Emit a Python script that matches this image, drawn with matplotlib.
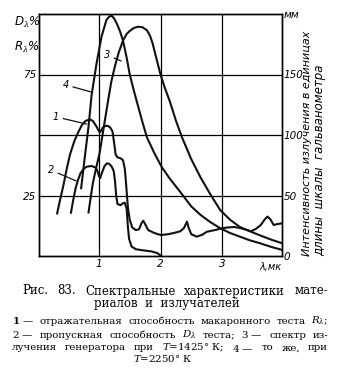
import matplotlib.pyplot as plt

# curve 1: reflectance R, %  (left axis)
lam1 = [0.32, 0.37, 0.42, 0.48, 0.53, 0.60, 0.66, 0.72, 0.78, 0.85, 0.90, 0.96, 1.00, 1.02,
        1.06, 1.10, 1.14, 1.18, 1.22, 1.25, 1.27, 1.30, 1.35, 1.39, 1.42, 1.44, 1.47, 1.50,
        1.54, 1.60, 1.65, 1.69, 1.72, 1.75, 1.80, 1.90, 2.00, 2.10, 2.20, 2.32, 2.38, 2.43,
        2.46, 2.50, 2.59, 2.68, 2.75, 2.90, 3.00, 3.10, 3.20, 3.30, 3.40, 3.47, 3.55, 3.63,
        3.69, 3.74, 3.79, 3.84, 3.90, 3.98]
refl1 = [17.6, 23.5, 29.0, 36.5, 42.0, 47.5, 51.0, 54.0, 55.8, 56.5, 55.8, 53.5, 51.5, 51.2,
         53.0, 53.7, 53.8, 53.2, 51.5, 46.0, 42.0, 40.8, 40.4, 39.6, 36.0, 30.0, 20.0, 15.0,
         11.8, 10.7, 11.0, 13.5, 14.6, 13.2, 10.7, 9.5, 8.7, 8.9, 9.4, 10.2, 11.5, 14.2,
         11.5, 9.0, 8.0, 8.8, 10.0, 10.8, 11.5, 11.8, 12.0, 11.5, 10.8, 10.2, 11.2, 12.8,
         15.0, 16.3, 15.0, 12.8, 13.2, 13.5]

# curve 2: transmittance D, %  (left axis)
lam2 = [0.545, 0.58, 0.62, 0.66, 0.70, 0.75, 0.80, 0.88, 0.94, 0.97, 1.00, 1.02, 1.05, 1.09,
        1.13, 1.17, 1.21, 1.24, 1.26, 1.28, 1.30, 1.35, 1.39, 1.42, 1.45, 1.47, 1.49, 1.53,
        1.60, 1.70, 1.85, 1.95, 2.01]
trans2 = [17.9, 23.0, 28.0, 31.5, 34.2, 36.0, 36.9, 37.2, 36.6, 35.5, 33.0, 32.2, 34.5, 37.2,
          38.3, 38.0, 36.8, 35.0, 31.0, 25.0, 21.5, 21.0, 21.8, 22.0, 19.5, 12.0, 7.0, 3.9,
          2.8, 2.4, 1.9, 1.2, 0.0]

# curve 3: generator spectrum at 1425 K, mm  (right axis)
lam3 = [0.83, 0.87, 0.90, 0.95, 1.01, 1.08, 1.15, 1.20, 1.26, 1.32, 1.39, 1.45, 1.50, 1.57,
        1.64, 1.71, 1.78, 1.83, 1.87, 1.93, 2.00, 2.07, 2.15, 2.25, 2.35, 2.50, 2.65, 2.81,
        2.97, 3.13, 3.29, 3.45, 3.62, 3.80, 3.98]
emis3 = [36, 50, 60, 72, 85, 107, 129, 144, 157, 168, 178, 183.5, 186, 188.5,
         189.5, 189, 186.5, 182, 176, 164, 150, 139, 128, 112, 98, 80, 65, 51,
         38, 30, 24, 20.5, 17, 13.5, 10.5]

# curve 4: same at 2250 K, mm  (right axis)
lam4 = [0.71, 0.77, 0.83, 0.88, 0.96, 1.04, 1.12, 1.17, 1.21, 1.25, 1.29, 1.34, 1.39, 1.45,
        1.50, 1.57, 1.64, 1.71, 1.78, 1.90, 2.02, 2.15, 2.32, 2.50, 2.65, 2.81, 2.97, 3.13,
        3.29, 3.45, 3.62, 3.80, 3.98]
emis4 = [56, 82, 107, 133, 159, 181, 195, 198, 198.5, 196, 192, 186, 178, 164,
         150, 136, 123, 110, 98, 85, 73.5, 64, 53, 41, 34, 28, 23, 19,
         16, 13, 10.5, 7.5, 5]

x_ticks = [1, 2, 3]
x_labels = ['1', '2', '3']
pct_ticks = [25, 50, 75]
pct_labels = ['25', '', '75']
mm_ticks = [0, 50, 100, 150, 200]
mm_labels = ['0', '50', '100', '150', 'мм']

plt.rcParams['mathtext.fontset'] = 'dejavuserif'

W, H = 342, 375
fig = plt.figure(figsize=(W / 100, H / 100), dpi=100)
ax = fig.add_axes([39 / W, 1 - 256 / H, (282 - 39) / W, (256 - 14) / H])
ax.set_xlim(0.025, 3.975)
ax.set_ylim(0, 100)
ax2 = ax.twinx()
ax2.set_ylim(0, 200)

ax.set_xticks(x_ticks)
ax.set_xticklabels(x_labels, style='italic', fontsize=7.5)
ax.set_yticks(pct_ticks)
ax.set_yticklabels(pct_labels, style='italic', fontsize=7.5)
ax2.set_yticks(mm_ticks)
ax2.set_yticklabels(mm_labels, style='italic', fontsize=7.5)
ax.tick_params(length=0, pad=2)
ax2.tick_params(length=0, pad=1)
ax.grid(True, color='k', lw=0.9)
for a in (ax, ax2):
    for s in a.spines.values():
        s.set_linewidth(1.0)

lc = '#111111'
ax.plot(lam1, refl1, color=lc, lw=1.5)
ax.plot(lam2, trans2, color=lc, lw=1.5)
ax2.plot(lam3, emis3, color=lc, lw=1.5)
ax2.plot(lam4, emis4, color=lc, lw=1.5)

# curve numbers with leader lines
lead = dict(arrowstyle='-', color=lc, lw=0.9, shrinkA=1, shrinkB=0)
ax.annotate('1', xy=(0.80, 54.5), xytext=(0.30, 57.5), fontsize=7, style='italic',
            ha='center', va='center', arrowprops=lead)
ax.annotate('2', xy=(0.63, 31), xytext=(0.22, 35.5), fontsize=7, style='italic',
            ha='center', va='center', arrowprops=lead)
ax.annotate('4', xy=(0.87, 67.8), xytext=(0.46, 70.7), fontsize=7, style='italic',
            ha='center', va='center', arrowprops=lead)
ax.annotate('3', xy=(1.36, 80.6), xytext=(1.13, 83), fontsize=7, style='italic',
            ha='center', va='center', arrowprops=lead)

ax.text(3.78, -4.5, 'λ,мк', fontsize=7, style='italic', ha='center', va='center')
fig.text(27 / W, 1 - 22 / H, 'D$_λ$%', fontsize=8.5, style='italic', ha='center', va='center')
fig.text(27 / W, 1 - 47 / H, 'R$_λ$%', fontsize=8.5, style='italic', ha='center', va='center')

fig.text(307 / W, 1 - 256 / H, 'Интенсивность излучения в единицах', rotation=90,
         ha='center', va='bottom', fontsize=8, style='italic')
fig.text(320 / W, 1 - 256 / H, 'длины  шкалы  гальванометра', rotation=90,
         ha='center', va='bottom', fontsize=8.5, style='italic')


def justify(words, x0, x1, y, **kw):
    items = [fig.text(0, 1 - y / H, w, va='center', ha='left', **kw) for w in words]
    r = fig.canvas.get_renderer()
    widths = [t.get_window_extent(r).width for t in items]
    gap = ((x1 - x0) - sum(widths)) / (len(items) - 1)
    x = x0
    for t, w in zip(items, widths):
        t.set_x(x / W)
        x += w + gap


serif = dict(family='DejaVu Serif')
justify(['Рис.', '83.', 'Спектральные', 'характеристики', 'мате-'], 22, 328, 291,
        fontsize=8.5, **serif)
fig.text(167 / W, 1 - 303 / H, 'риалов  и  излучателей', ha='center', va='center',
         fontsize=8.5, **serif)
justify([r'$\mathbf{1}$ —', 'отражательная', 'способность', 'макаронного', 'теста',
         r'$R_\lambda$;'], 12, 328, 321, fontsize=7.4, **serif)
justify([r'$2$ —', 'пропускная', 'способность', r'$D_\lambda$', 'теста;', r'$3$ —',
         'спектр', 'из-'], 12, 328, 335, fontsize=7.4, **serif)
justify(['лучения', 'генератора', 'при', r'$T$=1425° К;', r'$4$ —', 'то', 'же,', 'при'],
        12, 328, 348, fontsize=7.4, **serif)
fig.text(163 / W, 1 - 359 / H, r'$T$=2250° К', ha='center', va='center', fontsize=7.4, **serif)

fig.savefig('out.png', dpi=100)
